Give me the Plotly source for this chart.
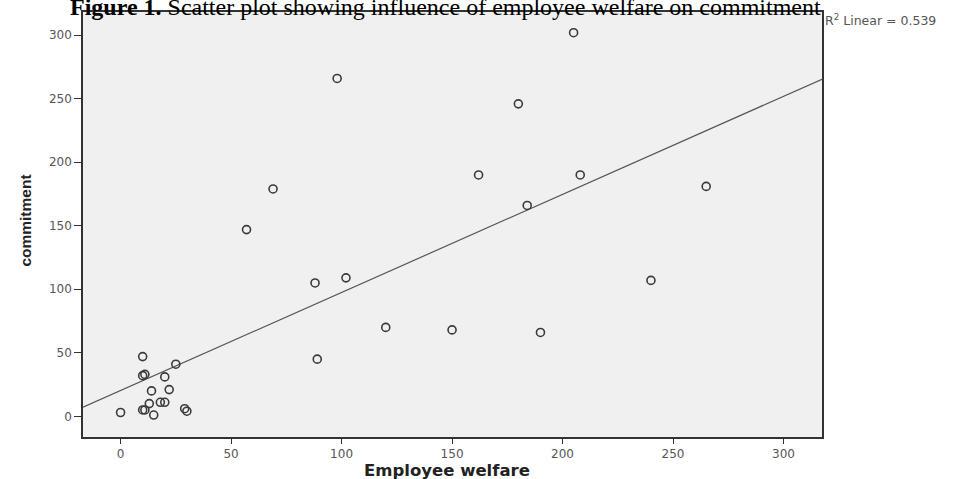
import plotly.graph_objects as go

# Data
employee_welfare = [10, 25, 10, 11, 20, 14, 22, 13, 18, 20, 10, 11, 0, 15, 29, 30,
                    57, 69, 98, 88, 102, 89, 120, 150, 162, 180, 184, 190, 205, 208, 240, 265]
commitment = [47, 41, 32, 33, 31, 20, 21, 10, 11, 11, 5, 5, 3, 1, 6, 4,
              147, 179, 266, 105, 109, 45, 70, 68, 190, 246, 166, 66, 302, 190, 107, 181]

# Fit line
fit_intercept = 20.3
fit_slope = 0.772
fit_x = [-17, 317.4]
fit_y = [fit_intercept + fit_slope * v for v in fit_x]
r2_text = "R<sup>2</sup> Linear = 0.539"

x_ticks = [0, 50, 100, 150, 200, 250, 300]
y_ticks = [0, 50, 100, 150, 200, 250, 300]

fig = go.Figure()
fig.add_trace(go.Scatter(x=fit_x, y=fit_y, mode="lines",
                         line=dict(color="#555555", width=1.2),
                         hoverinfo="skip", showlegend=False))
fig.add_trace(go.Scatter(x=employee_welfare, y=commitment, mode="markers",
                         marker=dict(symbol="circle-open", size=8, color="#3a3a3a",
                                     line=dict(color="#3a3a3a", width=1.6)),
                         showlegend=False))

tickfont = dict(family="DejaVu Sans, Liberation Sans, Arial, sans-serif", size=12, color="#555555")
fig.update_xaxes(range=[-17, 317.4], tickvals=x_ticks, ticks="outside", ticklen=5,
                 tickcolor="#333333", showgrid=False, zeroline=False,
                 showline=True, linecolor="#333333", linewidth=1.5, mirror=True,
                 tickfont=tickfont)
fig.update_yaxes(range=[-16.3, 318.3], tickvals=y_ticks, ticks="outside", ticklen=7,
                 tickcolor="#333333", showgrid=False, zeroline=False,
                 showline=True, linecolor="#333333", linewidth=1.5, mirror=True,
                 tickfont=tickfont)

fig.update_layout(
    width=954, height=479,
    margin=dict(l=83, r=132, t=12, b=42, autoexpand=False),
    plot_bgcolor="#f0f0f0", paper_bgcolor="white",
    annotations=[
        dict(text="<b>Figure 1.</b> Scatter plot showing influence of employee welfare on commitment",
             xref="paper", yref="paper", x=-0.02, y=1, xanchor="left", yanchor="bottom",
             yshift=-10, showarrow=False,
             font=dict(family="Liberation Serif, Times New Roman, serif", size=24, color="black")),
        dict(text=r2_text, xref="paper", yref="paper", x=1, y=1, xanchor="left",
             yanchor="middle", yshift=-8, xshift=1, showarrow=False,
             font=dict(family="DejaVu Sans, Liberation Sans, Arial, sans-serif", size=12.5, color="#555555")),
        dict(text="<b>commitment</b>", xref="paper", yref="paper", x=-0.078, y=0.51,
             xanchor="center", yanchor="middle", textangle=-90, showarrow=False,
             font=dict(family="Liberation Sans Narrow, Liberation Sans, Arial, sans-serif",
                       size=15.5, color="#222222")),
        dict(text="<b>Employee welfare</b>", xref="paper", yref="paper", x=0.493, y=0,
             xanchor="center", yanchor="middle", yshift=-33, showarrow=False,
             font=dict(family="DejaVu Sans, Liberation Sans, Arial, sans-serif", size=16.5, color="#222222")),
    ],
)

fig.write_html("out.html", config={"displayModeBar": False},
               post_script="document.body.style.margin='0';")
